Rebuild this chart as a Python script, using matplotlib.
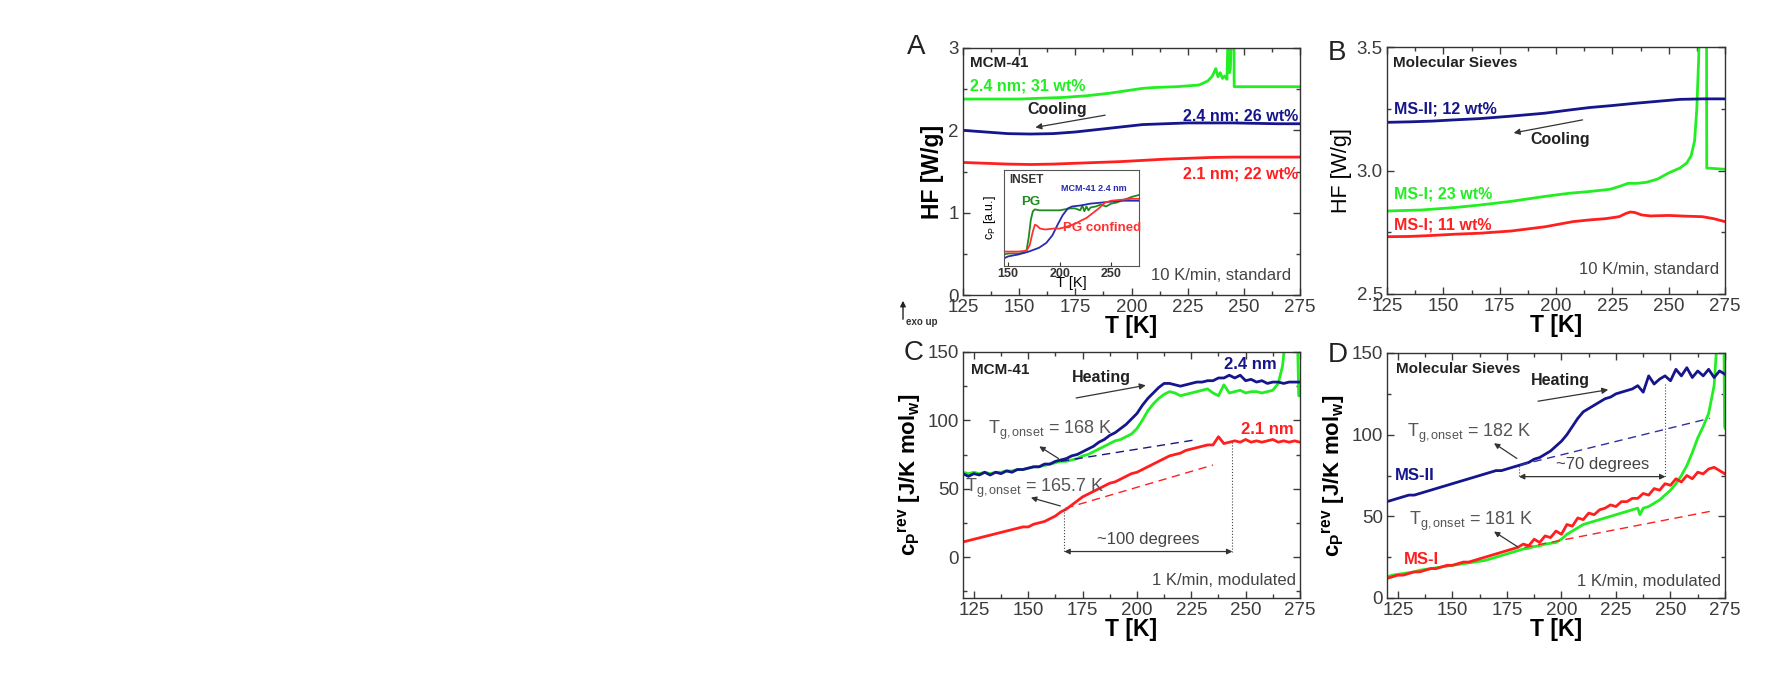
import numpy as np
import matplotlib
matplotlib.use("Agg")
import matplotlib.pyplot as plt
from matplotlib.ticker import MultipleLocator, FormatStrFormatter

plt.rcParams['font.family'] = ['Liberation Sans', 'DejaVu Sans']
plt.rcParams['mathtext.fontset'] = 'custom'
plt.rcParams['mathtext.rm'] = 'Liberation Sans'
plt.rcParams['mathtext.bf'] = 'Liberation Sans:bold'
plt.rcParams['mathtext.it'] = 'Liberation Sans:italic'

GREEN = '#22ee22'
BLUE = '#15158c'
RED = '#ff1f1f'
GRAY = '#444444'

# ---------------- Panel A data (HF, cooling, MCM-41) ----------------
A_T_green = [125, 140, 150, 160, 170, 180, 190, 200, 205, 210, 220, 230, 234, 236,
             237.5, 238.5, 239.5, 240.5, 241.5, 242.5, 243, 243.5, 244, 244.5, 245,
             245.6, 245.7, 255, 265, 275]
A_HF_green = [2.38, 2.38, 2.38, 2.39, 2.40, 2.42, 2.45, 2.49, 2.51, 2.52, 2.53, 2.55, 2.60, 2.66,
              2.75, 2.65, 2.70, 2.63, 2.66, 2.62, 3.20, 2.70, 2.75, 3.20, 3.20,
              3.20, 2.53, 2.53, 2.53, 2.53]
A_T = [125, 135, 145, 155, 165, 175, 185, 195, 205, 215, 225, 235, 245, 255, 265, 275]
A_HF_blue = [2.00, 1.98, 1.96, 1.955, 1.96, 1.98, 2.01, 2.04, 2.07, 2.08, 2.09, 2.09, 2.09, 2.085, 2.08, 2.08]
A_HF_red = [1.61, 1.60, 1.59, 1.585, 1.59, 1.60, 1.61, 1.62, 1.635, 1.65, 1.66, 1.67, 1.675, 1.675, 1.675, 1.675]

# Inset (PG bulk vs confined)
IN_T_green = [146, 150, 160, 166, 168, 170, 172, 174, 176, 180, 190, 200, 205, 210, 215, 220,
              222, 224, 226, 228, 230, 235, 240, 245, 250, 255, 260, 265, 270, 277]
IN_cp_green = [0.12, 0.13, 0.13, 0.14, 0.17, 0.30, 0.48, 0.57, 0.59, 0.58, 0.58, 0.58, 0.59, 0.60, 0.60, 0.58,
               0.63, 0.57, 0.62, 0.58, 0.61, 0.62, 0.64, 0.62, 0.65, 0.66, 0.68, 0.70, 0.72, 0.74]
IN_T_blue = [146, 150, 160, 170, 180, 187, 193, 198, 203, 208, 212, 220, 230, 240, 250, 260, 270, 277]
IN_cp_blue = [0.08, 0.10, 0.12, 0.15, 0.19, 0.24, 0.32, 0.43, 0.53, 0.60, 0.62, 0.63, 0.65, 0.66, 0.67, 0.68, 0.68, 0.68]
IN_T_red = [146, 150, 160, 168, 171, 174, 176, 178, 181, 186, 194, 200, 207, 215, 222, 226, 232, 238,
            244, 250, 260, 270, 277]
IN_cp_red = [0.15, 0.15, 0.15, 0.16, 0.22, 0.36, 0.43, 0.42, 0.39, 0.38, 0.39, 0.39, 0.41, 0.44, 0.48, 0.50, 0.55, 0.60,
             0.66, 0.68, 0.69, 0.70, 0.70]

# ---------------- Panel B data (HF, cooling, molecular sieves) ----------------
B_T_green = [125, 140, 155, 166, 180, 195, 206, 215, 224, 228, 232, 236, 240, 245, 250, 255, 258, 260,
             261.5, 262.5, 263.3, 263.8, 266.8, 266.9, 275]
B_HF_green = [2.836, 2.84, 2.85, 2.86, 2.875, 2.895, 2.908, 2.915, 2.924, 2.935, 2.948, 2.948, 2.952, 2.965,
              2.99, 3.01, 3.03, 3.06, 3.12, 3.25, 3.45, 3.60, 3.60, 3.01, 3.005]
B_T_blue = [125, 135, 145, 155, 166, 180, 195, 206, 215, 225, 235, 245, 255, 265, 275]
B_HF_blue = [3.195, 3.197, 3.20, 3.205, 3.21, 3.22, 3.232, 3.245, 3.255, 3.263, 3.272, 3.28, 3.288, 3.29, 3.29]
B_T_red = [125, 135, 145, 155, 166, 180, 195, 207.5, 215, 222, 228, 231, 233, 235, 238, 242, 250, 258, 265, 270, 275]
B_HF_red = [2.732, 2.733, 2.737, 2.742, 2.746, 2.755, 2.772, 2.793, 2.80, 2.805, 2.813, 2.826, 2.832, 2.83,
            2.82, 2.816, 2.818, 2.815, 2.813, 2.805, 2.793]

# ---------------- Panel C data (cp rev, heating, MCM-41) ----------------
C_T = [120, 122.5, 125, 127.5, 130, 132.5, 135, 137.5, 140, 142.5, 145, 147.5, 150, 152.5, 155, 157.5,
       160, 162.5, 165, 167.5, 170, 172.5, 175, 177.5, 180, 182.5, 185, 187.5, 190, 192.5, 195, 197.5,
       200, 202.5, 205, 207.5, 210, 212.5, 215, 217.5, 220, 222.5, 225, 227.5, 230, 232.5, 235, 237.5,
       240, 242.5, 245, 247.5, 250, 252.5, 255, 257.5, 260, 262.5, 265, 267.5, 270, 272.5, 275]
C_cp_blue = [61, 59, 61, 60, 62, 60, 62, 61, 63, 62, 64, 64, 65, 66, 66, 68,
             68, 70, 71, 72, 74, 75, 77, 79, 81, 84, 86, 89, 91, 94, 97, 101,
             105, 111, 116, 120, 124, 127, 127, 126, 125, 126, 127, 128, 128, 129, 129, 131,
             131, 133, 131, 133, 129, 130, 128, 129, 127, 128, 128, 127, 128, 128, 128]
C_cp_red = [11, 12, 13, 14, 15, 16, 17, 18, 19, 20, 21, 22, 22, 24, 25, 26,
            28, 30, 33, 35, 38, 41, 44, 46, 48, 50, 52, 54, 55, 57, 59, 61,
            62, 64, 66, 68, 70, 72, 74, 75, 76, 78, 79, 80, 81, 82, 82, 88,
            83, 84, 85, 84, 86, 84, 85, 84, 85, 86, 84, 85, 84, 85, 84]
C_T_green = [120, 122.5, 125, 127.5, 130, 132.5, 135, 137.5, 140, 142.5, 145, 147.5, 150, 152.5, 155, 157.5,
             160, 162.5, 165, 167.5, 170, 172.5, 175, 177.5, 180, 182.5, 185, 187.5, 190, 192.5, 195, 197.5,
             200, 202.5, 205, 207.5, 210, 212.5, 215, 217.5, 220, 222.5, 225, 227.5, 230, 232.5, 235, 237.5,
             240, 242.5, 245, 247.5, 250, 252.5, 255, 257.5, 260, 262.5, 265, 267, 268.5, 273.8, 274.4, 275]
C_cp_green = [62, 61, 62, 61, 62, 61, 62, 62, 63, 63, 64, 64, 65, 66, 66, 67,
              68, 69, 70, 70, 71, 72, 74, 75, 77, 79, 81, 83, 85, 86, 88, 90,
              94, 100, 107, 112, 116, 119, 121, 120, 118, 119, 120, 121, 122, 123, 120, 118,
              126, 120, 121, 122, 120, 121, 121, 120, 121, 122, 127, 140, 165, 165, 118, 118]
C_dash_blue_T = [165, 228]
C_dash_blue_cp = [70, 86]
C_dash_red_T = [167, 235]
C_dash_red_cp = [35.6, 67.3]

# ---------------- Panel D data (cp rev, heating, molecular sieves) ----------------
D_T = C_T
D_cp_blue = [59, 60, 61, 62, 63, 63, 64, 65, 66, 67, 68, 69, 70, 71, 72, 73,
             74, 75, 76, 77, 78, 78, 79, 80, 81, 82, 83, 85, 86, 88, 90, 93,
             96, 100, 105, 110, 114, 116, 118, 120, 122, 123, 125, 126, 127, 128, 130, 126,
             136, 131, 134, 136, 133, 140, 136, 141, 135, 139, 136, 140, 135, 139, 137]
D_cp_red = [12, 13, 14, 14, 15, 16, 16, 17, 18, 18, 19, 20, 20, 21, 22, 22,
            23, 24, 25, 26, 27, 28, 29, 30, 31, 33, 32, 36, 34, 38, 37, 41,
            39, 45, 44, 49, 48, 52, 51, 54, 55, 57, 56, 59, 59, 61, 61, 64,
            63, 67, 66, 70, 69, 73, 71, 75, 73, 77, 76, 79, 80, 78, 76]
D_T_green = [120, 122.5, 125, 127.5, 130, 132.5, 135, 137.5, 140, 142.5, 145, 147.5, 150, 152.5, 155, 157.5,
             160, 162.5, 165, 167.5, 170, 172.5, 175, 177.5, 180, 182.5, 185, 187.5, 190, 192.5, 195, 197.5,
             200, 202.5, 205, 207.5, 210, 212.5, 215, 217.5, 220, 222.5, 225, 227.5, 230, 232.5, 235, 236,
             237.5, 240, 242.5, 245, 247.5, 250, 252.5, 255, 257.5, 260, 262.5, 265, 267.5, 270, 271.5,
             274.5, 274.8, 275]
D_cp_green = [13, 14, 14.5, 15, 15.5, 16, 17, 17.5, 18, 18.5, 19, 19.5, 20, 20.5, 21, 21.5,
              22, 22.5, 23, 24, 25, 26, 27, 28, 29, 30, 30.5, 31.5, 32, 33, 33.5, 34,
              36, 39, 41, 43, 45, 46, 47, 48, 49, 50, 51, 52, 53, 54, 55, 51,
              55, 56, 58, 60, 63, 66, 70, 75, 81, 89, 98, 105, 113, 130, 160,
              160, 105, 104]
D_dash_blue_T = [181, 268]
D_dash_blue_cp = [81.4, 110]
D_dash_red_T = [183, 268]
D_dash_red_cp = [31, 53]

# ---------------- figure ----------------
fig = plt.figure(figsize=(17.72, 6.85), dpi=100)
W, H = 1772.0, 685.0


def add_ax(x0, y0, x1, y1):
    return fig.add_axes([x0 / W, 1 - y1 / H, (x1 - x0) / W, (y1 - y0) / H])


axA = add_ax(963, 48, 1300, 295)
axB = add_ax(1387, 47, 1725, 294)
axC = add_ax(963, 352, 1300, 598)
axD = add_ax(1387, 353, 1725, 598)

LW = 2.0
TICKC = '#3c3c3c'


def style(ax):
    ax.tick_params(which='both', direction='in', top=True, right=True, colors=TICKC,
                   labelsize=13.5, labelcolor=TICKC)
    ax.tick_params(which='major', length=5, width=1.0, pad=3)
    ax.tick_params(which='minor', length=3, width=1.0)
    for s in ax.spines.values():
        s.set_linewidth(1.0)
        s.set_color('#333333')
    ax.xaxis.set_major_locator(MultipleLocator(25))
    ax.xaxis.set_minor_locator(MultipleLocator(12.5))


# ---- Panel A ----
axA.plot(A_T_green, A_HF_green, color=GREEN, lw=LW)
axA.plot(A_T, A_HF_blue, color=BLUE, lw=LW)
axA.plot(A_T, A_HF_red, color=RED, lw=LW)
axA.set_xlim(125, 275)
axA.set_ylim(0, 3)
style(axA)
axA.yaxis.set_major_locator(MultipleLocator(1))
axA.yaxis.set_minor_locator(MultipleLocator(0.5))
axA.set_ylabel('HF [W/g]', fontsize=16.5, fontweight='bold', labelpad=3)
axA.set_xlabel('T [K]', fontsize=16.5, fontweight='bold', labelpad=-1)
axA.text(128, 2.82, 'MCM-41', fontsize=11, fontweight='bold', va='center', color='#222222')
axA.text(128, 2.54, '2.4 nm; 31 wt%', fontsize=11.5, fontweight='bold', va='center', color=GREEN)
axA.text(167, 2.25, 'Cooling', fontsize=11.5, fontweight='bold', va='center', ha='center', color='#222222')
axA.annotate('', xy=(156, 2.03), xytext=(189.5, 2.19),
             arrowprops=dict(arrowstyle='-|>', color='#333333', lw=0.9, mutation_scale=9))
axA.text(274, 2.17, '2.4 nm; 26 wt%', fontsize=11.5, fontweight='bold', va='center', ha='right', color=BLUE)
axA.text(274, 1.47, '2.1 nm; 22 wt%', fontsize=11.5, fontweight='bold', va='center', ha='right', color=RED)
axA.text(271, 0.24, '10 K/min, standard', fontsize=12, va='center', ha='right', color=GRAY)

# inset
axI = add_ax(1004, 170, 1139, 266)
axI.plot(IN_T_green, IN_cp_green, color='#1f8a1f', lw=1.3)
axI.plot(IN_T_blue, IN_cp_blue, color='#2a2ab0', lw=1.3)
axI.plot(IN_T_red, IN_cp_red, color='#ff3030', lw=1.3)
axI.set_xlim(146, 277)
axI.set_ylim(0, 1)
axI.set_xticks([150, 200, 250])
axI.set_yticks([])
axI.tick_params(direction='in', length=3, width=0.8, labelsize=9, pad=1.5, colors='#333333')
for lab in axI.get_xticklabels():
    lab.set_fontweight('bold')
for s in axI.spines.values():
    s.set_linewidth(0.8)
    s.set_color('#555555')
axI.set_xlabel('T [K]', fontsize=10.5, labelpad=-3)
axI.set_ylabel(r'c$_\mathrm{P}$ [a.u.]', fontsize=9, labelpad=4)
axI.text(0.04, 0.90, 'INSET', transform=axI.transAxes, fontsize=8.5, fontweight='bold', va='center', color='#333333')
axI.text(0.42, 0.81, 'MCM-41 2.4 nm', transform=axI.transAxes, fontsize=6.5, fontweight='bold',
         va='center', color='#2a2ab0')
axI.text(0.13, 0.67, 'PG', transform=axI.transAxes, fontsize=9.5, fontweight='bold', va='center', color='#1f8a1f')
axI.text(0.44, 0.40, 'PG confined', transform=axI.transAxes, fontsize=9.5, fontweight='bold',
         va='center', color='#ff3030')

# ---- Panel B ----
axB.plot(B_T_green, B_HF_green, color=GREEN, lw=LW)
axB.plot(B_T_blue, B_HF_blue, color=BLUE, lw=LW)
axB.plot(B_T_red, B_HF_red, color=RED, lw=LW)
axB.set_xlim(125, 275)
axB.set_ylim(2.5, 3.5)
style(axB)
axB.yaxis.set_major_locator(MultipleLocator(0.5))
axB.yaxis.set_minor_locator(MultipleLocator(0.25))
axB.yaxis.set_major_formatter(FormatStrFormatter('%.1f'))
axB.set_ylabel('HF [W/g]', fontsize=15.5, labelpad=3)
axB.set_xlabel('T [K]', fontsize=16.5, fontweight='bold', labelpad=-1)
axB.text(127.5, 3.434, 'Molecular Sieves', fontsize=11, fontweight='bold', va='center', color='#222222')
axB.text(128, 3.25, 'MS-II; 12 wt%', fontsize=11.5, fontweight='bold', va='center', color=BLUE)
axB.text(128, 2.905, 'MS-I; 23 wt%', fontsize=11.5, fontweight='bold', va='center', color=GREEN)
axB.text(128, 2.78, 'MS-I; 11 wt%', fontsize=11.5, fontweight='bold', va='center', color=RED)
axB.text(202, 3.125, 'Cooling', fontsize=11.5, fontweight='bold', va='center', ha='center', color='#222222')
axB.annotate('', xy=(180, 3.15), xytext=(213, 3.207),
             arrowprops=dict(arrowstyle='-|>', color='#333333', lw=0.9, mutation_scale=9))
axB.text(272.5, 2.6, '10 K/min, standard', fontsize=12, va='center', ha='right', color=GRAY)

# ---- Panel C ----
axC.plot(C_T_green, C_cp_green, color=GREEN, lw=LW)
axC.plot(C_T, C_cp_blue, color=BLUE, lw=LW)
axC.plot(C_T, C_cp_red, color=RED, lw=LW)
axC.plot(C_dash_blue_T, C_dash_blue_cp, color=BLUE, lw=1.0, ls=(0, (6, 4)))
axC.plot(C_dash_red_T, C_dash_red_cp, color=RED, lw=1.0, ls=(0, (6, 4)))
axC.set_xlim(120, 275)
axC.set_ylim(-30, 150)
style(axC)
axC.yaxis.set_major_locator(MultipleLocator(50))
axC.yaxis.set_minor_locator(MultipleLocator(25))
axC.set_ylabel(r'$\mathbf{c_P}^{\mathbf{rev}}$ [J/K mol$_\mathbf{w}$]', fontsize=16, fontweight='bold', labelpad=3)
axC.set_xlabel('T [K]', fontsize=16.5, fontweight='bold', labelpad=-1)
axC.text(123.5, 137, 'MCM-41', fontsize=11, fontweight='bold', va='center', color='#222222')
axC.text(183.5, 131, 'Heating', fontsize=11.5, fontweight='bold', va='center', ha='center', color='#222222')
axC.annotate('', xy=(205.3, 126), xytext=(170.8, 116),
             arrowprops=dict(arrowstyle='-|>', color='#333333', lw=0.9, mutation_scale=9))
axC.text(240, 141, '2.4 nm', fontsize=12, fontweight='bold', va='center', color=BLUE)
axC.text(248, 93.5, '2.1 nm', fontsize=12, fontweight='bold', va='center', color=RED)
axC.text(131.5, 93, r'T$_\mathrm{g,onset}$ = 168 K', fontsize=13, va='center', color='#555555')
axC.annotate('', xy=(154, 82), xytext=(165, 71),
             arrowprops=dict(arrowstyle='-|>', color='#333333', lw=0.9, mutation_scale=8))
axC.text(121, 50.5, r'T$_\mathrm{g,onset}$ = 165.7 K', fontsize=13, va='center', color='#555555')
axC.annotate('', xy=(150, 44), xytext=(166, 36.8),
             arrowprops=dict(arrowstyle='-|>', color='#333333', lw=0.9, mutation_scale=8))
axC.plot([166.6, 166.6], [35, 4], color='#444444', lw=0.8, ls=':')
axC.plot([243.9, 243.9], [84, 4], color='#444444', lw=0.8, ls=':')
axC.annotate('', xy=(166.6, 4), xytext=(243.9, 4),
             arrowprops=dict(arrowstyle='<|-|>', color='#333333', lw=0.9, mutation_scale=8,
                             shrinkA=0, shrinkB=0))
axC.text(205, 12.5, '~100 degrees', fontsize=12, va='center', ha='center', color=GRAY)
axC.text(273, -17, '1 K/min, modulated', fontsize=12, va='center', ha='right', color=GRAY)

# ---- Panel D ----
axD.plot(D_T_green, D_cp_green, color=GREEN, lw=LW)
axD.plot(D_T, D_cp_red, color=RED, lw=LW)
axD.plot(D_T, D_cp_blue, color=BLUE, lw=LW)
axD.plot(D_dash_blue_T, D_dash_blue_cp, color='#3030a0', lw=1.0, ls=(0, (6, 4)))
axD.plot(D_dash_red_T, D_dash_red_cp, color=RED, lw=1.0, ls=(0, (6, 4)))
axD.set_xlim(120, 275)
axD.set_ylim(0, 150)
style(axD)
axD.yaxis.set_major_locator(MultipleLocator(50))
axD.yaxis.set_minor_locator(MultipleLocator(25))
axD.set_ylabel(r'$\mathbf{c_P}^{\mathbf{rev}}$ [J/K mol$_\mathbf{w}$]', fontsize=16, fontweight='bold', labelpad=3)
axD.set_xlabel('T [K]', fontsize=16.5, fontweight='bold', labelpad=-1)
axD.text(124, 140.5, 'Molecular Sieves', fontsize=11, fontweight='bold', va='center', color='#222222')
axD.text(199.5, 133, 'Heating', fontsize=11.5, fontweight='bold', va='center', ha='center', color='#222222')
axD.annotate('', xy=(222.7, 127.8), xytext=(188, 120.2),
             arrowprops=dict(arrowstyle='-|>', color='#333333', lw=0.9, mutation_scale=9))
axD.text(129, 101, r'T$_\mathrm{g,onset}$ = 182 K', fontsize=13, va='center', color='#555555')
axD.annotate('', xy=(168, 95.7), xytext=(180.6, 84.5),
             arrowprops=dict(arrowstyle='-|>', color='#333333', lw=0.9, mutation_scale=8))
axD.text(130, 47, r'T$_\mathrm{g,onset}$ = 181 K', fontsize=13, va='center', color='#555555')
axD.annotate('', xy=(168, 41.6), xytext=(181, 30.4),
             arrowprops=dict(arrowstyle='-|>', color='#333333', lw=0.9, mutation_scale=8))
axD.plot([180.5, 180.5], [81, 74.3], color='#444444', lw=0.8, ls=':')
axD.plot([247.7, 247.7], [131, 74.3], color='#444444', lw=0.8, ls=':')
axD.annotate('', xy=(180.5, 74.3), xytext=(247.7, 74.3),
             arrowprops=dict(arrowstyle='<|-|>', color='#333333', lw=0.9, mutation_scale=8,
                             shrinkA=0, shrinkB=0))
axD.text(218.8, 81.5, '~70 degrees', fontsize=12, va='center', ha='center', color=GRAY)
axD.text(123.7, 75, 'MS-II', fontsize=12, fontweight='bold', va='center', color=BLUE)
axD.text(127.8, 23.7, 'MS-I', fontsize=12, fontweight='bold', va='center', color=RED)
axD.text(273, 10, '1 K/min, modulated', fontsize=12, va='center', ha='right', color=GRAY)

# panel letters
for lbl, (px, py) in {'A': (916, 47), 'B': (1337, 53), 'C': (914, 353), 'D': (1338, 355)}.items():
    fig.text(px / W, 1 - py / H, lbl, fontsize=20, ha='center', va='center', color='#222222')

# exo up
fig.patches.append(matplotlib.patches.FancyArrowPatch(
    (903 / W, 1 - 322 / H), (903 / W, 1 - 298 / H), transform=fig.transFigure,
    arrowstyle='-|>', mutation_scale=8, color='#222222', lw=1.0))
fig.text(906 / W, 1 - 322 / H, 'exo up', fontsize=7, fontweight='bold', va='center', color='#333333')

fig.savefig('out.png', dpi=100)
